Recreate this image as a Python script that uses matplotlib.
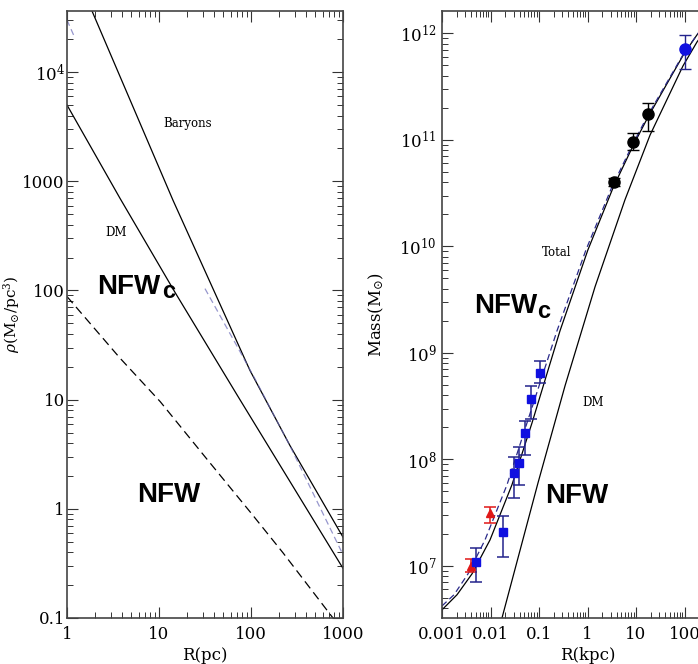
import numpy as np
import matplotlib
matplotlib.use("Agg")
import matplotlib.pyplot as plt
from matplotlib.ticker import LogLocator, NullFormatter, FuncFormatter

plt.rcParams['font.family'] = ['DejaVu Serif']
plt.rcParams['mathtext.fontset'] = 'dejavuserif'

# ---------------- Left panel data: density profiles ----------------
R_baryons = [1.5, 1.87, 14.2, 97.5, 265, 1000]
rho_baryons = [56000, 36300, 670, 18.5, 3.8, 0.55]

R_dm = [1, 3.77, 15, 72.2, 300, 1000]
rho_dm = [5000, 698, 95.5, 10.7, 1.5, 0.285]

R_nfw = [1, 3.77, 10.3, 31.6, 100, 223, 778, 1000]
rho_nfw = [88, 24, 9.6, 3.0, 0.916, 0.395, 0.1, 0.0755]

R_blue = [31.6, 75.9, 110, 265, 1000]
rho_blue = [104, 27.6, 15.6, 3.78, 0.38]

R_blue_top = [1, 1.22]
rho_blue_top = [30000, 20500]

# ---------------- Right panel data: mass profiles ----------------
R_total = [0.001, 0.00204, 0.00416, 0.00977, 0.0277, 0.0718, 0.271, 1.02, 3.36, 8.67, 17.7, 97.7, 181, 1000]
M_total = [3.86e6, 5.35e6, 8.41e6, 1.75e7, 5.77e7, 2.20e8, 1.61e9, 9.27e9, 3.54e10, 8.79e10, 1.64e11, 6.43e11, 9.68e11, 2.67e12]

R_nfwc = [0.001, 0.00177, 0.00344, 0.0077, 0.0219, 0.0566, 0.235, 0.93, 3.13, 8.26, 16.8, 95.5, 181, 1000]
M_nfwc = [4.2e6, 5.35e6, 8.41e6, 1.75e7, 5.77e7, 2.20e8, 1.61e9, 9.27e9, 3.54e10, 8.79e10, 1.64e11, 6.43e11, 9.68e11, 2.67e12]

R_dm2 = [0.0143, 0.0173, 0.0953, 0.344, 1.43, 5.93, 19.5, 93.1, 181, 1000]
M_dm2 = [2.35e6, 3.25e6, 6.0e7, 4.9e8, 4.17e9, 2.74e10, 1.11e11, 4.95e11, 8.3e11, 2.45e12]

R_sq = [0.005, 0.018, 0.031, 0.039, 0.051, 0.068, 0.105]
M_sq = [1.09e7, 2.09e7, 7.5e7, 9.3e7, 1.75e8, 3.7e8, 6.5e8]
M_sq_lo = [7.1e6, 1.2e7, 4.3e7, 5.76e7, 1.1e8, 2.4e8, 5.2e8]
M_sq_hi = [1.48e7, 2.95e7, 1.05e8, 1.3e8, 2.3e8, 4.9e8, 8.3e8]

R_tri = [0.004, 0.0098]
M_tri = [1.0e7, 3.15e7]
M_tri_lo = [8.8e6, 2.53e7]
M_tri_hi = [1.15e7, 3.58e7]

R_bc = [3.5, 8.7, 17.7]
M_bc = [4.0e10, 9.6e10, 1.75e11]
M_bc_lo = [3.7e10, 8.1e10, 1.2e11]
M_bc_hi = [4.4e10, 1.15e11, 2.2e11]

R_blc = [100]
M_blc = [7.1e11]
M_blc_lo = [4.6e11]
M_blc_hi = [9.6e11]

left_xticks = [1, 10, 100, 1000]
left_yticks = [0.1, 1, 10, 100, 1000, 1e4]
right_xticks = [0.001, 0.01, 0.1, 1, 10, 100, 1000]
right_yticks = [1e7, 1e8, 1e9, 1e10, 1e11, 1e12]

# ---------------- figure ----------------
fig = plt.figure(figsize=(6.98, 6.64), dpi=100)
ax1 = fig.add_axes([67/698, 46/664, 276/698, 607/664])
ax2 = fig.add_axes([442/698, 46/664, 291/698, 607/664])

def style(ax, ypad):
    ax.set_xscale('log')
    ax.set_yscale('log')
    for s in ax.spines.values():
        s.set_color('#444444')
        s.set_linewidth(1.2)
    ax.tick_params(which='both', direction='in', top=True, right=True, color='#333333')
    ax.tick_params(which='major', length=8, width=0.8, labelsize=12)
    ax.tick_params(which='minor', length=4.3, width=0.7)
    ax.tick_params(axis='x', which='major', pad=6)
    ax.tick_params(axis='y', which='major', pad=ypad)
    ax.xaxis.set_minor_locator(LogLocator(base=10, subs=np.arange(2, 10), numticks=100))
    ax.yaxis.set_minor_locator(LogLocator(base=10, subs=np.arange(2, 10), numticks=100))
    ax.xaxis.set_minor_formatter(NullFormatter())
    ax.yaxis.set_minor_formatter(NullFormatter())

def plainfmt(v, pos):
    if v >= 1e4:
        return r'$10^{%d}$' % int(round(np.log10(v)))
    return '%g' % v

style(ax1, 1.5)
style(ax2, 4)

# Left panel
ax1.plot(R_baryons, rho_baryons, color='black', lw=0.9)
ax1.plot(R_dm, rho_dm, color='black', lw=0.9)
ax1.plot(R_nfw, rho_nfw, color='black', lw=0.9, dashes=(7, 4))
ax1.plot(R_blue, rho_blue, color='#6a6ab8', lw=0.9, dashes=(5, 3), alpha=0.7)
ax1.plot(R_blue_top, rho_blue_top, color='#6a6ab8', lw=0.9, dashes=(5, 3), alpha=0.7)

ax1.set_xlim(1, 1000)
ax1.set_ylim(0.1, 10**4.56)
ax1.set_xticks(left_xticks)
ax1.set_yticks(left_yticks)
ax1.xaxis.set_major_formatter(FuncFormatter(plainfmt))
ax1.yaxis.set_major_formatter(FuncFormatter(plainfmt))
ax1.set_xlabel('R(pc)', fontsize=12)
ax1.set_ylabel(r'$\rho(\mathrm{M_{\odot}/pc^{3}})$', fontsize=11)
ax1.xaxis.set_label_coords(0.5, -0.048)
ax1.yaxis.set_label_coords(-0.163, 0.5)

ax1.text(20.7, 3400, 'Baryons', fontsize=8.5, ha='center', va='center')
ax1.text(2.6, 340, 'DM', fontsize=8.5, ha='left', va='center')
bold = dict(family=['Liberation Sans', 'DejaVu Sans'], weight='bold')
ax1.text(2.12, 93, 'NFW', fontsize=20, ha='left', va='baseline', **bold)
ax1.text(10.8, 84.5, 'c', fontsize=17, ha='left', va='baseline', **bold)
ax1.text(5.77, 1.16, 'NFW', fontsize=20, ha='left', va='baseline', **bold)

# Right panel
ax2.plot(R_total, M_total, color='black', lw=0.9)
ax2.plot(R_nfwc, M_nfwc, color='#2a2a8a', lw=0.9, dashes=(5, 3))
ax2.plot(R_dm2, M_dm2, color='black', lw=0.9)

ecol = '#23238c'
ax2.errorbar(R_tri, M_tri,
             yerr=[np.array(M_tri) - np.array(M_tri_lo), np.array(M_tri_hi) - np.array(M_tri)],
             fmt='^', color='#e01818', ecolor='#e01818', ms=6, capsize=4.5, elinewidth=1.1, capthick=1.1)
ax2.errorbar(R_sq, M_sq,
             yerr=[np.array(M_sq) - np.array(M_sq_lo), np.array(M_sq_hi) - np.array(M_sq)],
             fmt='s', color='#1010e0', ecolor=ecol, ms=6, capsize=4.5, elinewidth=1.1, capthick=1.1)
ax2.errorbar(R_bc, M_bc,
             yerr=[np.array(M_bc) - np.array(M_bc_lo), np.array(M_bc_hi) - np.array(M_bc)],
             fmt='o', color='black', ecolor='black', ms=8, capsize=4.5, elinewidth=1.0, capthick=1.0)
ax2.errorbar(R_blc, M_blc,
             yerr=[np.array(M_blc) - np.array(M_blc_lo), np.array(M_blc_hi) - np.array(M_blc)],
             fmt='o', color='#1010e0', ecolor=ecol, ms=8, capsize=4.5, elinewidth=1.0, capthick=1.0)

ax2.set_xlim(0.001, 1000)
ax2.set_ylim(10**6.51, 10**12.21)
ax2.set_xticks(right_xticks)
ax2.set_yticks(right_yticks)
ax2.xaxis.set_major_formatter(FuncFormatter(lambda v, p: '%g' % v))
ax2.yaxis.set_major_formatter(FuncFormatter(lambda v, p: r'$10^{%d}$' % int(round(np.log10(v)))))
ax2.set_xlabel('R(kpc)', fontsize=12)
ax2.set_ylabel(r'$\mathrm{Mass(M_{\odot})}$', fontsize=12)
ax2.xaxis.set_label_coords(0.5, -0.048)
ax2.yaxis.set_label_coords(-0.192, 0.5)

ax2.text(0.235, 8.7e9, 'Total', fontsize=8.5, ha='center', va='center')
ax2.text(1.3, 3.4e8, 'DM', fontsize=8.5, ha='center', va='center')
ax2.text(0.0046, 2.38e9, 'NFW', fontsize=20, ha='left', va='baseline', **bold)
ax2.text(0.091, 2.13e9, 'c', fontsize=17, ha='left', va='baseline', **bold)
ax2.text(0.133, 3.9e7, 'NFW', fontsize=20, ha='left', va='baseline', **bold)

fig.savefig('out.png', dpi=100)
